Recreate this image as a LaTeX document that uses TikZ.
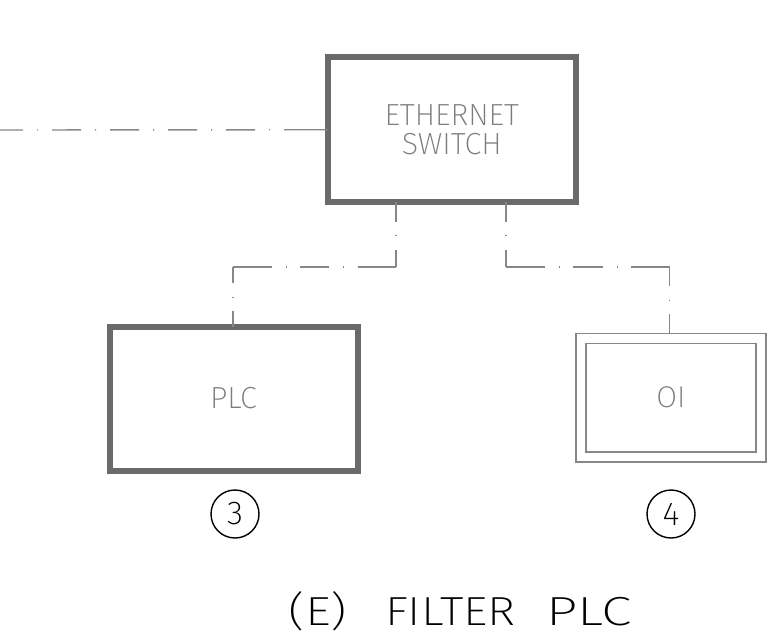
\documentclass[tikz,border=0pt]{standalone}
\usepackage{fontspec}
\setmainfont{Fira Sans}[UprightFont={* ExtraLight}]
\definecolor{boxgray}{HTML}{6A6A6A}
\definecolor{linegray}{HTML}{878787}
\definecolor{txtgray}{HTML}{7C7C7C}
\begin{document}
\begin{tikzpicture}[x=1pt,y=-1pt,
  thickbox/.style={rectangle, draw=boxgray, line width=6pt, fill=white,
    inner sep=0pt, outer sep=0pt, text=txtgray, align=center,
    font=\fontsize{30.5}{28.5}\selectfont},
  oibox/.style={rectangle, draw=linegray, line width=1.3pt, double=white,
    double distance=8.7pt, fill=white, inner sep=0pt, outer sep=5pt,
    text=txtgray, font=\fontsize{30}{30}\selectfont},
  tagcircle/.style={circle, draw=black, line width=1.4pt, minimum size=48pt,
    inner sep=0pt, font=\fontsize{33}{33}\selectfont},
  conn/.style={draw=linegray, line width=1.4pt},
  titletext/.style={font=\fontsize{40.6}{42}\selectfont, text=black, inner sep=0pt}
]
\useasboundingbox (0,0) rectangle (784,634);

% nodes
\node[thickbox, minimum width=248.5pt, minimum height=144.5pt] (sw) at (451.75,129.75) {ETHERNET\\SWITCH};
\node[thickbox, minimum width=248pt, minimum height=144pt] (plc) at (233.5,398.5) {PLC};
\node[oibox, minimum width=180pt, minimum height=118.5pt] (oi) at (671,397.75) {OI};
\node[tagcircle] (t3) at (235,514) {3};
\node[tagcircle] (t4) at (671,514) {4};
\node[titletext, anchor=base] (title) at (460,625.5)
  {\scalebox{1.25}[1]{(E)}\hspace{38pt}\scalebox{1.18}[1]{FILTER}\hspace{31pt}\scalebox{1.36}[1]{PLC}};

% corner coordinates
\coordinate (c1) at (396,267);
\coordinate (c2) at (233,267);
\coordinate (c3) at (506,267);
\coordinate (c4) at (669.5,267);
\coordinate (g0) at (0,130);

% connectors
\draw[conn, dash pattern=on 20pt off 13pt on 1pt off 14pt on 40pt off 10pt] (sw.south -| c1) -- (c1);
\draw[conn, dash pattern=on 38pt off 14pt on 1pt off 14pt on 29pt off 13.5pt on 1pt off 13.5pt on 50pt off 10pt] (c1) -- (c2);
\draw[conn, dash pattern=on 16pt off 13.5pt on 1pt off 13.5pt on 40pt off 10pt] (c2) -- (c2 |- plc.north);
\draw[conn, dash pattern=on 20pt off 13pt on 1pt off 14pt on 40pt off 10pt] (sw.south -| c3) -- (c3);
\draw[conn, dash pattern=on 39pt off 13.5pt on 1pt off 13.5pt on 30pt off 13.5pt on 1pt off 13.5pt on 50pt off 10pt] (c3) -- (c4);
\draw[conn, dash pattern=on 19pt off 13.5pt on 1pt off 13.5pt on 40pt off 10pt] (c4) -- (c4 |- oi.north);
\draw[conn, dash pattern=on 43.5pt off 14pt on 1pt off 14pt on 29pt off 14pt on 1pt off 14pt on 29pt off 14pt on 1pt off 14pt on 29pt off 14pt on 1pt off 14pt on 29pt off 14pt on 1pt off 14pt on 60pt off 10pt] (sw.west) -- (g0);
\end{tikzpicture}
\end{document}
